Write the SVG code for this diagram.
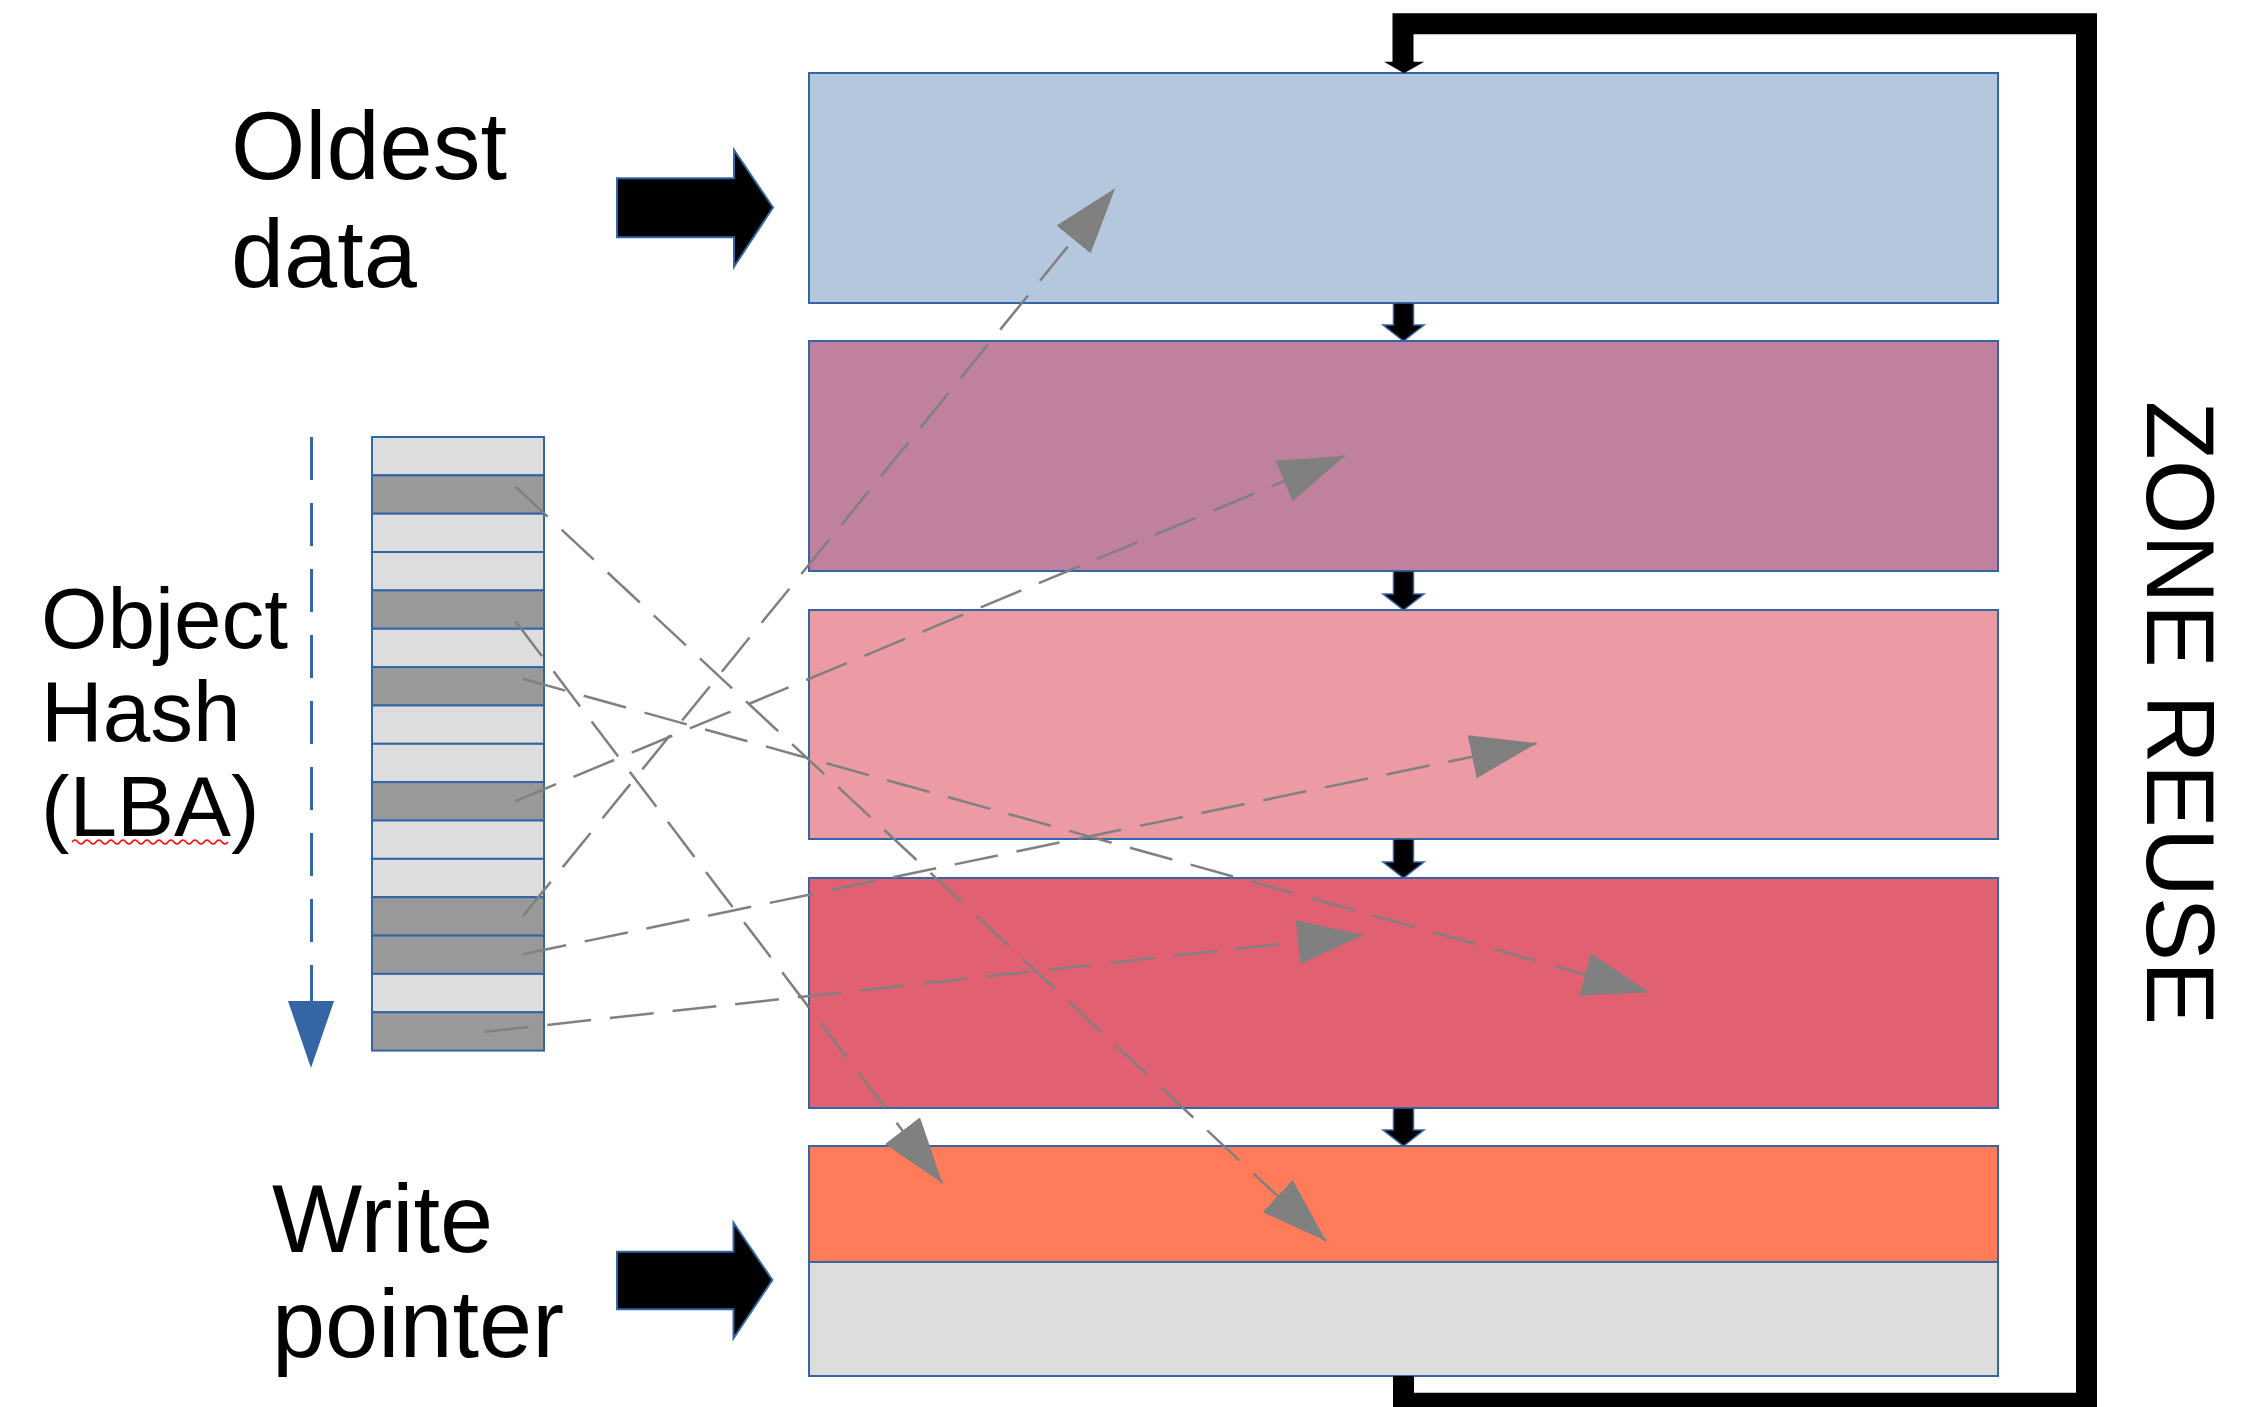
<svg xmlns="http://www.w3.org/2000/svg" width="2260" height="1407" viewBox="0 0 2260 1407">
  <style>
    .zone { stroke: #3465a4; stroke-width: 2; }
    .cell { stroke: #3465a4; stroke-width: 2; }
    .light { fill: #dddddd; }
    .dark { fill: #999999; }
    .label { font-family: "Liberation Sans", Arial, sans-serif; fill: #000000; }
    .big { font-size: 95.5px; }
    .mid { font-size: 85.5px; }
    .vert { font-size: 96px; }
    .link { fill: none; stroke: #808080; stroke-width: 2.5; stroke-dasharray: 44 19; marker-end: url(#grayHead); }
    .step { fill: #000000; stroke: #3465a4; stroke-width: 1.5; }
    .block { fill: #000000; stroke: #3465a4; stroke-width: 2; }
  </style>
  <defs>
    <marker id="grayHead" markerUnits="userSpaceOnUse" markerWidth="66" markerHeight="44" viewBox="0 0 66 44" refX="66" refY="22" orient="auto">
      <path d="M0,0 L66,22 L0,44 z" fill="#808080"/>
    </marker>
  </defs>

  <rect width="2260" height="1407" fill="#ffffff"/>

  <!-- zones, oldest at the top, write pointer at the bottom -->
  <g id="zone1"><rect class="zone" x="809" y="73" width="1189" height="230" fill="#b4c7dc"/></g>
  <g id="zone2"><rect class="zone" x="809" y="341" width="1189" height="230" fill="#bf819e"/></g>
  <g id="zone3"><rect class="zone" x="809" y="610" width="1189" height="229" fill="#ec9ba4"/></g>
  <g id="zone4"><rect class="zone" x="809" y="878" width="1189" height="230" fill="#e16173"/></g>
  <g id="zone5">
    <rect class="zone" x="809" y="1146" width="1189" height="116" fill="#ff7b59"/>
    <rect class="zone" x="809" y="1262" width="1189" height="114" fill="#dddddd"/>
  </g>

  <!-- object hash column -->
  <g id="hash-column">
    <rect class="cell light" x="372" y="437.00" width="172" height="38.35"/>
    <rect class="cell dark"  x="372" y="475.35" width="172" height="38.35"/>
    <rect class="cell light" x="372" y="513.70" width="172" height="38.35"/>
    <rect class="cell light" x="372" y="552.05" width="172" height="38.35"/>
    <rect class="cell dark"  x="372" y="590.40" width="172" height="38.35"/>
    <rect class="cell light" x="372" y="628.75" width="172" height="38.35"/>
    <rect class="cell dark"  x="372" y="667.10" width="172" height="38.35"/>
    <rect class="cell light" x="372" y="705.45" width="172" height="38.35"/>
    <rect class="cell light" x="372" y="743.80" width="172" height="38.35"/>
    <rect class="cell dark"  x="372" y="782.15" width="172" height="38.35"/>
    <rect class="cell light" x="372" y="820.50" width="172" height="38.35"/>
    <rect class="cell light" x="372" y="858.85" width="172" height="38.35"/>
    <rect class="cell dark"  x="372" y="897.20" width="172" height="38.35"/>
    <rect class="cell dark"  x="372" y="935.55" width="172" height="38.35"/>
    <rect class="cell light" x="372" y="973.90" width="172" height="38.35"/>
    <rect class="cell dark"  x="372" y="1012.25" width="172" height="38.35"/>
  </g>

  <!-- hash ordering arrow -->
  <g id="hash-order">
    <line x1="311.5" y1="437" x2="311.5" y2="1002" stroke="#3465a4" stroke-width="3" stroke-dasharray="43 23"/>
    <polygon points="288,1001 334,1001 311,1068" fill="#3465a4"/>
  </g>

  <!-- pointer arrows -->
  <g id="oldest-arrow">
    <polygon class="block" points="617,178.3 734,178.3 734,150 773,207.5 734,266.7 734,237.3 617,237.3"/>
  </g>
  <g id="write-arrow">
    <polygon class="block" points="617,1251.7 733.5,1251.7 733.5,1222.7 772.3,1280 733.5,1338.3 733.5,1309.3 617,1309.3"/>
  </g>

  <!-- labels -->
  <g id="label-oldest">
    <text class="label big" x="231" y="178.5">Oldest</text>
    <text class="label big" x="231" y="287">data</text>
  </g>
  <g id="label-hash">
    <text class="label mid" x="41" y="648">Object</text>
    <text class="label mid" x="41" y="741">Hash</text>
    <text class="label mid" x="41" y="836">(LBA)</text>
    <path d="M72,842 q3,-4 6,0 t6,0 t6,0 t6,0 t6,0 t6,0 t6,0 t6,0 t6,0 t6,0 t6,0 t6,0 t6,0 t6,0 t6,0 t6,0 t6,0 t6,0 t6,0 t6,0 t6,0 t6,0 t6,0 t6,0 t6,0 t6,0" fill="none" stroke="#ff0000" stroke-width="1.5"/>
  </g>
  <g id="label-write">
    <text class="label big" x="272" y="1251.7">Write</text>
    <text class="label big" x="272" y="1356.7">pointer</text>
  </g>
  <g id="label-reuse">
    <text class="label vert" transform="translate(2147,401) rotate(90)">ZONE REUSE</text>
  </g>

  <!-- connectors -->
  <g id="connectors">
    <!-- zone to zone steps -->
    <polygon class="step" points="1393.5,303 1413.5,303 1413.5,325 1424,325 1403.5,341 1383,325 1393.5,325"/>
    <polygon class="step" points="1393.5,571 1413.5,571 1413.5,594 1424,594 1403.5,610 1383,594 1393.5,594"/>
    <polygon class="step" points="1393.5,839 1413.5,839 1413.5,862 1424,862 1403.5,878 1383,862 1393.5,862"/>
    <polygon class="step" points="1393.5,1108 1413.5,1108 1413.5,1130 1424,1130 1403.5,1146 1383,1130 1393.5,1130"/>

    <!-- reuse loop from the last zone back to the first -->
    <path d="M1403.5,1376 V1403.2 H2086.5 V23.8 H1403 V62" fill="none" stroke="#000000" stroke-width="21" stroke-linejoin="miter"/>
    <polygon points="1384,61.7 1424.3,61.7 1404,73.3" fill="#000000"/>

    <!-- hash slots to zones -->
    <line class="link" x1="515.4" y1="486.7" x2="1326" y2="1241"/>
    <line class="link" x1="515.4" y1="621.2" x2="942.4" y2="1183.2"/>
    <line class="link" x1="523" y1="678.8" x2="1648.7" y2="992.2"/>
    <line class="link" x1="515.4" y1="801.1" x2="1345" y2="455.7"/>
    <line class="link" x1="523" y1="916" x2="1115.2" y2="188.3"/>
    <line class="link" x1="523" y1="954.2" x2="1536.7" y2="743.3"/>
    <line class="link" x1="484.7" y1="1031.8" x2="1363.6" y2="934.9"/>
  </g>
</svg>
